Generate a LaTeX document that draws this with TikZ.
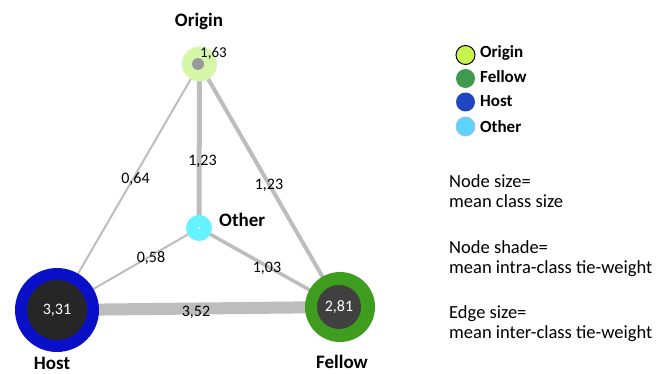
\documentclass[tikz,border=0pt]{standalone}
\usepackage{fontspec}
\setmainfont{Carlito}
\definecolor{edgegray}{HTML}{BDBDBD}
\definecolor{origout}{HTML}{D6F7A8}
\definecolor{originner}{HTML}{9A9A9A}
\definecolor{hostout}{HTML}{0A10C8}
\definecolor{hostin}{HTML}{262626}
\definecolor{fellowout}{HTML}{3E9C1E}
\definecolor{fellowin}{HTML}{404040}
\definecolor{othercol}{HTML}{66F2FF}
\definecolor{legorigin}{HTML}{C8F24C}
\definecolor{legfellow}{HTML}{3E9A4C}
\definecolor{leghost}{HTML}{1F45C0}
\definecolor{legother}{HTML}{5FD2FF}
\tikzset{
  edge/.style={draw=edgegray},
  elabel/.style={anchor=base, font=\fontsize{16}{18}\selectfont, inner sep=0pt},
  title/.style={anchor=base, font=\fontsize{19}{21}\selectfont\bfseries, inner sep=0pt},
  legdot/.style={circle, minimum size=19pt, inner sep=0pt},
  legtext/.style={anchor=base west, font=\fontsize{17}{19}\selectfont\bfseries, inner sep=0pt},
  note/.style={anchor=base west, font=\fontsize{18.5}{21}\selectfont, inner sep=0pt},
}
\begin{document}
\begin{tikzpicture}[x=1pt,y=-1pt]
\useasboundingbox (0,0) rectangle (668,374);
% node positions
\coordinate (O) at (199.5,64);
\coordinate (Ot) at (199,228);
\coordinate (H) at (57,310);
\coordinate (F) at (340,307);
% edges
\draw[edge, line width=12pt] (H) -- (F);
\draw[edge, line width=2pt] (O) -- (H);
\draw[edge, line width=2pt] (Ot) -- (H);
\draw[edge, line width=5pt] (O) -- (Ot);
\draw[edge, line width=4pt] (O) -- (F);
\draw[edge, line width=3.5pt] (Ot) -- (F);
% nodes
\node[circle, fill=origout, minimum size=35pt, inner sep=0pt] (origin) at (O) {};
\node[circle, fill=originner, minimum size=12pt, inner sep=0pt] (origindot) at (198,64) {};
\node[circle, fill=othercol, minimum size=26pt, inner sep=0pt] (other) at (Ot) {};
\node[circle, fill=white, minimum size=2pt, inner sep=0pt] (otherdot) at (Ot) {};
\node[circle, fill=hostout, minimum size=84pt, inner sep=0pt] (host) at (H) {};
\node[circle, fill=hostin, minimum size=60pt, inner sep=0pt, text=white, font=\fontsize{16}{18}\selectfont] (hostin) at (H) {3,31};
\node[circle, fill=fellowout, minimum size=70pt, inner sep=0pt] (fellow) at (F) {};
\node[circle, fill=fellowin, minimum size=44pt, inner sep=0pt, text=white, font=\fontsize{16}{18}\selectfont] (fellowin) at (339,307) {2,81};
% node value / title labels
\node[elabel, font=\fontsize{15}{17}\selectfont] (v163) at (213.5,58) {1,63};
\node[title] (torigin) at (199,27) {Origin};
\node[title, anchor=base west] (tother) at (219,226) {Other};
\node[title] (thost) at (52,369) {Host};
\node[title] (tfellow) at (342,368) {Fellow};
% edge labels
\node[elabel] (l064) at (135.5,183) {0,64};
\node[elabel] (l123a) at (202.5,165) {1,23};
\node[elabel] (l123b) at (269,189) {1,23};
\node[elabel] (l058) at (151,262) {0,58};
\node[elabel] (l103) at (267,272) {1,03};
\node[elabel] (l352) at (196,316) {3,52};
% legend
\node[legdot, fill=legorigin, draw=black, line width=1pt] (lo) at (465.5,55) {};
\node[legdot, fill=legfellow] (lf) at (465.5,78.5) {};
\node[legdot, fill=leghost] (lh) at (465.5,102) {};
\node[legdot, fill=legother, draw=leghost!40, line width=0.6pt] (lot) at (465.5,126.5) {};
\node[legtext] (lto) at (480,58) {Origin};
\node[legtext] (ltf) at (480,83) {Fellow};
\node[legtext] (lth) at (480,107) {Host};
\node[legtext] (ltot) at (480,132) {Other};
% notes
\node[note] (n1a) at (449,187) {Node size=};
\node[note] (n1b) at (449,207) {mean class size};
\node[note] (n2a) at (449,253) {Node shade=};
\node[note] (n2b) at (449,273) {mean intra-class tie-weight};
\node[note] (n3a) at (449,318) {Edge size=};
\node[note] (n3b) at (449,338) {mean inter-class tie-weight};
\end{tikzpicture}
\end{document}
